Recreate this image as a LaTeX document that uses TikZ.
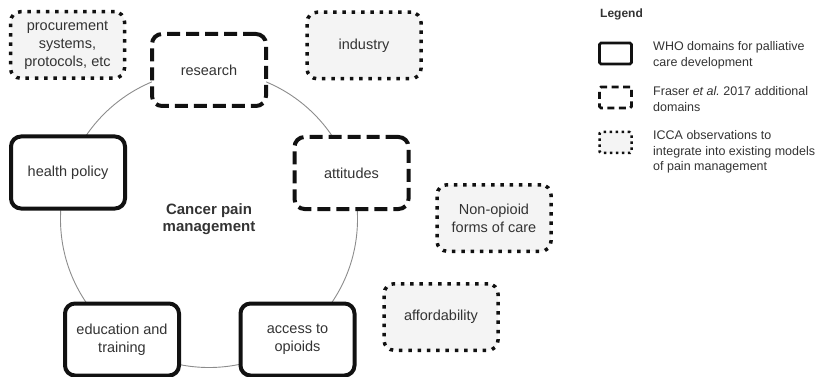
\documentclass[tikz,border=0pt]{standalone}
\usepackage{fontspec}
\setmainfont{Liberation Sans}
\definecolor{txt}{HTML}{333333}
\definecolor{edge}{HTML}{111111}
\definecolor{ring}{HTML}{8C8C8C}
\definecolor{dotfill}{HTML}{F4F4F4}
\tikzset{
  box/.style={rounded corners=10pt, minimum width=114pt, minimum height=72pt,
    align=center, text=txt, font=\fontsize{14.5}{18}\selectfont, inner sep=0pt, draw=edge},
  who/.style={box, line width=4pt, fill=white},
  fraser/.style={box, line width=4pt, dash pattern=on 13pt off 6pt, fill=white},
  icca/.style={box, line width=3.5pt, dash pattern=on 3.5pt off 5.8pt, fill=dotfill, minimum height=66.5pt},
  legbox/.style={draw=edge, rounded corners=1.5pt, minimum width=32pt, minimum height=21pt, inner sep=0pt},
  legtext/.style={anchor=west, align=left, text=txt, inner sep=0pt, font=\fontsize{12.5}{15.5}\selectfont},
  ringline/.style={draw=ring, line width=0.9pt}
}
\begin{document}
\begin{tikzpicture}[x=1pt,y=-1pt]
\useasboundingbox (0,0) rectangle (822,377);
% ring
\coordinate (c) at (209,219);
\draw[ringline] (c) circle[radius=148.5pt];
% WHO / Fraser domains on the ring
\node[fraser] (research) at (209,70) {research};
\node[fraser] (attitudes) at (351.5,173) {attitudes};
\node[who] (access) at (297.5,339.5) {access to\\opioids};
\node[who] (education) at (122,339.5) {education and\\training};
\node[who] (health) at (68,172.5) {health policy};
% centre label
\node[align=center, text=txt, font=\fontsize{15}{17}\selectfont\bfseries] (title) at (c) {Cancer pain\\management};
% ICCA observations
\node[icca] (procure) at (67.5,45) {procurement\\systems,\\protocols, etc};
\node[icca] (industry) at (364,45.5) {industry};
\node[icca] (nonopioid) at (494,218) {Non-opioid\\forms of care};
\node[icca] (afford) at (441,317) {affordability};
% legend
\node[anchor=west, inner sep=0pt, text=txt, font=\fontsize{12}{14}\selectfont\bfseries] (legend) at (600,14) {Legend};
\node[legbox, line width=2.8pt] (lwho) at (615.5,53.5) {};
\node[legbox, line width=2.8pt, dash pattern=on 7pt off 4.5pt] (lfraser) at (615.5,97.5) {};
\node[legbox, line width=2.5pt, dash pattern=on 2.5pt off 3.5pt, fill=dotfill] (licca) at (615.5,142.5) {};
\node[legtext] (twho) at (653,55.5) {WHO domains for palliative\\care development};
\node[legtext] (tfraser) at (653,99) {Fraser \textit{et al.}\ 2017 additional\\domains};
\node[legtext] (ticca) at (653,152) {ICCA observations to\\integrate into existing models\\of pain management};
\end{tikzpicture}
\end{document}
